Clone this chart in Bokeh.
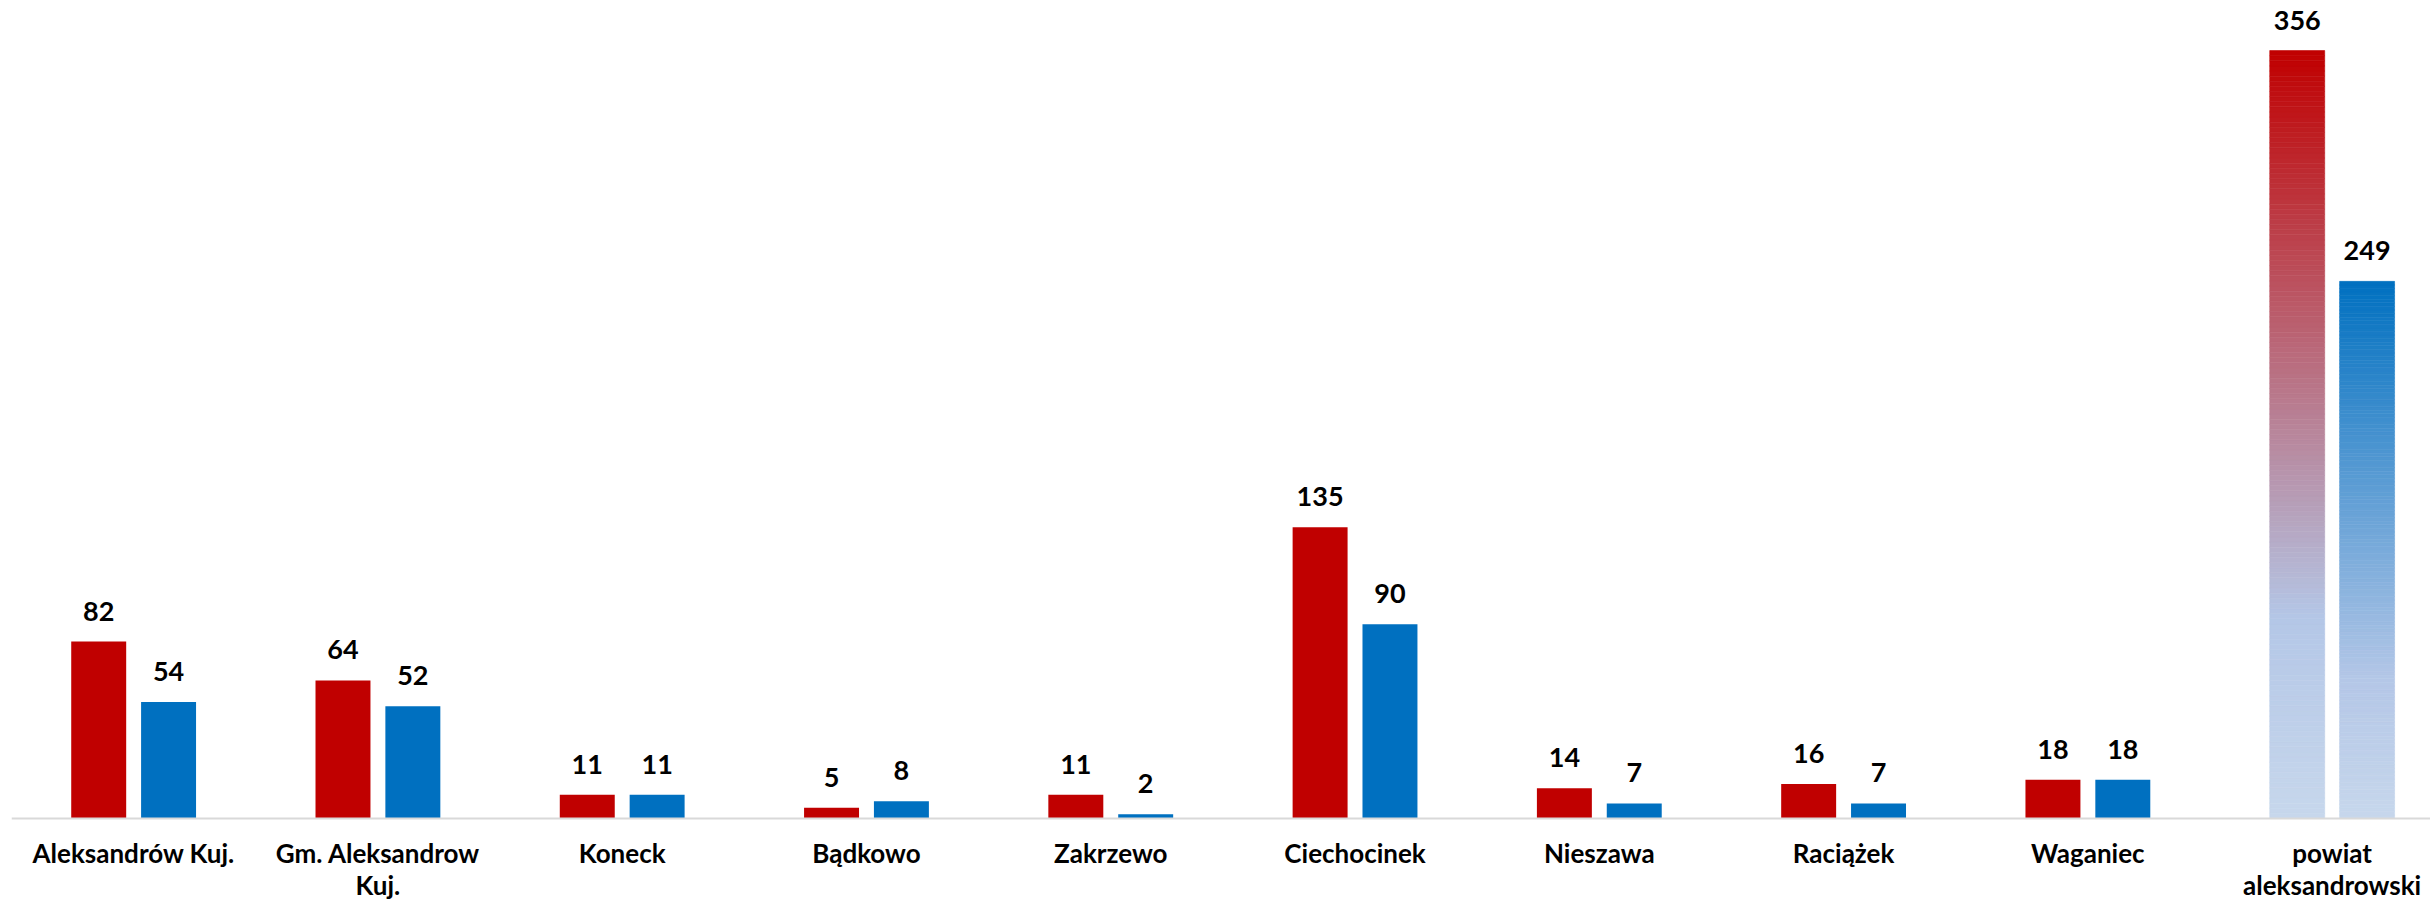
import numpy as np
from bokeh.plotting import figure
from bokeh.models import Range1d, ColumnDataSource, LabelSet, Span
from bokeh.core.properties import value
from bokeh.embed import file_html
from bokeh.resources import INLINE

# ---- data ----
categories = ["Aleksandrów Kuj.", "Gm. Aleksandrow Kuj.", "Koneck", "Bądkowo", "Zakrzewo",
              "Ciechocinek", "Nieszawa", "Raciążek", "Waganiec", "powiat aleksandrowski"]
tick_labels = ["Aleksandrów Kuj.", "Gm. Aleksandrow\nKuj.", "Koneck", "Bądkowo", "Zakrzewo",
               "Ciechocinek", "Nieszawa", "Raciążek", "Waganiec", "powiat\naleksandrowski"]
series_red = [82, 64, 11, 5, 11, 135, 14, 16, 18, 356]
series_blue = [54, 52, 11, 8, 2, 90, 7, 7, 18, 249]

RED = "#C00000"
BLUE = "#0070C0"
FONT = "Lato"

n = len(categories)
idx = np.arange(n)
OFF = 0.143
BW = 0.225

p = figure(width=2430, height=902,
           x_range=Range1d(-0.5, 9.4026), y_range=Range1d(-38.94, 379.2),
           output_backend="svg", toolbar_location=None,
           x_axis_location=None, y_axis_location=None,
           min_border_left=11, min_border_right=0, min_border_top=0, min_border_bottom=0)
p.outline_line_color = None
p.xgrid.grid_line_color = None
p.ygrid.grid_line_color = None
p.background_fill_color = "white"


def hex2rgb(h):
    h = h.lstrip("#")
    return np.array([int(h[i:i + 2], 16) for i in (0, 2, 4)], dtype=float)


def grad_color(base, t):
    # t = 0 at top, 1 at bottom
    stops = [(0.0, hex2rgb(base)), (0.74, hex2rgb("#B4C7E7")), (1.0, hex2rgb("#C7D7EC"))]
    for (t0, c0), (t1, c1) in zip(stops[:-1], stops[1:]):
        if t <= t1:
            f = (t - t0) / (t1 - t0)
            c = c0 + (c1 - c0) * f
            return "#%02x%02x%02x" % tuple(int(round(v)) for v in c)
    c = stops[-1][1]
    return "#%02x%02x%02x" % tuple(int(round(v)) for v in c)


for vals, base, off in ((series_red, RED, -OFF), (series_blue, BLUE, OFF)):
    # solid bars for the municipalities
    solid = ColumnDataSource(dict(x=idx[:-1] + off, top=vals[:-1]))
    p.vbar(x="x", top="top", bottom=0, width=BW, source=solid,
           fill_color=base, line_color=None)
    # gradient bar for the county total
    v = vals[-1]
    N = 150
    edges = np.linspace(0, v, N + 1)
    bottoms = edges[:-1]
    tops = edges[1:]
    mids = (bottoms + tops) / 2
    cols = [grad_color(base, 1 - m / v) for m in mids]
    gsrc = ColumnDataSource(dict(x=[idx[-1] + off] * N, bottom=bottoms, top=tops, c=cols))
    p.vbar(x="x", top="top", bottom="bottom", width=BW, source=gsrc,
           fill_color="c", line_color="c", line_width=0.6)

# category axis baseline
p.add_layout(Span(location=0, dimension="width", line_color="#D9D9D9", line_width=2))

# value labels
for vals, off in ((series_red, -OFF), (series_blue, OFF)):
    lsrc = ColumnDataSource(dict(x=idx + off, y=vals, t=[str(v) for v in vals]))
    p.add_layout(LabelSet(x="x", y="y", text="t", source=lsrc,
                          text_align="center", text_baseline="alphabetic",
                          y_offset=21, text_font=value(FONT), text_font_style="bold",
                          text_font_size="27px", text_color="black"))

# category labels (one LabelSet per text line)
lines = [lab.split("\n") for lab in tick_labels]
for k in range(max(len(l) for l in lines)):
    xs = [i for i in range(n) if len(lines[i]) > k]
    ts = [lines[i][k] for i in xs]
    csrc = ColumnDataSource(dict(x=xs, y=[0] * len(xs), t=ts))
    p.add_layout(LabelSet(x="x", y="y", text="t", source=csrc,
                          text_align="center", text_baseline="alphabetic",
                          y_offset=-45 - 32 * k, text_font=value(FONT), text_font_style="bold",
                          text_font_size="26px", text_color="black"))

open("out.html", "w").write(file_html(p, INLINE))
